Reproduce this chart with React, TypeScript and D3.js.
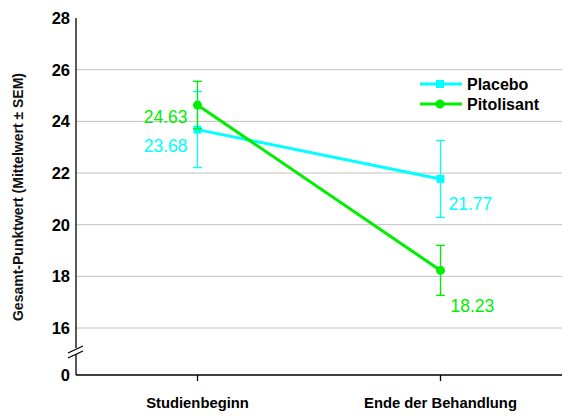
import { useEffect, useRef } from "react";
import * as d3 from "d3";

const timepoints = ["Studienbeginn", "Ende der Behandlung"];
const placeboMean = [23.68, 21.77];
const placeboSem = [1.47, 1.49];
const pitolisantMean = [24.63, 18.23];
const pitolisantSem = [0.92, 0.97];
const yTicks = [0, 16, 18, 20, 22, 24, 26, 28];
const gridTicks = [16, 18, 20, 22, 24, 26];

const CYAN = "#00ffff";
const GREEN = "#00ee00";
const FONT = "Arial, 'Liberation Sans', sans-serif";

export default function App() {
  const svgRef = useRef<SVGSVGElement>(null);

  useEffect(() => {
    if (!svgRef.current) return;
    const width = 572;
    const height = 418;
    const margin = { top: 18, right: 10, bottom: 43, left: 76 };

    const svg = d3.select(svgRef.current);
    svg.selectAll("*").remove();

    const x = d3.scalePoint<string>()
      .domain(timepoints)
      .range([margin.left, width - margin.right])
      .padding(0.5);

    // broken axis: 0 at the bottom, then 16..28
    const y = d3.scaleLinear()
      .domain([0, 16, 28])
      .range([height - margin.bottom, 328, margin.top]);

    // gridlines
    svg.append("g")
      .selectAll("line")
      .data(gridTicks)
      .join("line")
      .attr("x1", margin.left)
      .attr("x2", width - margin.right)
      .attr("y1", d => y(d))
      .attr("y2", d => y(d))
      .attr("stroke", "#c0c0c0")
      .attr("stroke-width", 1);

    // y axis with break
    const axisY = svg.append("g").attr("stroke", "#000").attr("stroke-width", 1.3);
    axisY.append("line")
      .attr("x1", margin.left).attr("x2", margin.left)
      .attr("y1", y(28)).attr("y2", 348);
    axisY.append("line")
      .attr("x1", margin.left).attr("x2", margin.left)
      .attr("y1", 354).attr("y2", y(0));
    [0, 5].forEach(off => {
      axisY.append("line")
        .attr("x1", margin.left - 8).attr("x2", margin.left + 7)
        .attr("y1", 358 - off).attr("y2", 351 - off);
    });

    svg.append("g")
      .selectAll("text")
      .data(yTicks)
      .join("text")
      .attr("x", margin.left - 6)
      .attr("y", d => y(d))
      .attr("dy", "0.36em")
      .attr("text-anchor", "end")
      .attr("font-family", FONT)
      .attr("font-size", 16.5)
      .attr("font-weight", "bold")
      .text(d => d);

    // x axis
    svg.append("line")
      .attr("x1", margin.left).attr("x2", width - margin.right)
      .attr("y1", y(0)).attr("y2", y(0))
      .attr("stroke", "#000").attr("stroke-width", 1.3);

    svg.append("g")
      .selectAll("line")
      .data(timepoints)
      .join("line")
      .attr("x1", d => x(d)!)
      .attr("x2", d => x(d)!)
      .attr("y1", y(0))
      .attr("y2", y(0) + 6)
      .attr("stroke", "#000")
      .attr("stroke-width", 1.3);

    svg.append("g")
      .selectAll("text")
      .data(timepoints)
      .join("text")
      .attr("x", d => x(d)!)
      .attr("y", 408)
      .attr("text-anchor", "middle")
      .attr("font-family", FONT)
      .attr("font-size", 14.8)
      .attr("font-weight", "bold")
      .text(d => d);

    // y axis title
    svg.append("text")
      .attr("transform", `translate(23,197) rotate(-90)`)
      .attr("text-anchor", "middle")
      .attr("font-family", FONT)
      .attr("font-size", 14)
      .attr("font-weight", "bold")
      .attr("fill", "#111")
      .text("Gesamt-Punktwert (Mittelwert ± SEM)");

    const series = [
      { name: "Placebo", mean: placeboMean, sem: placeboSem, color: CYAN, marker: "square" },
      { name: "Pitolisant", mean: pitolisantMean, sem: pitolisantSem, color: GREEN, marker: "circle" },
    ];

    const line = d3.line<number>()
      .x((_, i) => x(timepoints[i])!)
      .y(d => y(d));

    series.forEach(s => {
      const g = svg.append("g");
      // error bars
      s.mean.forEach((m, i) => {
        const cx = x(timepoints[i])!;
        g.append("line")
          .attr("x1", cx).attr("x2", cx)
          .attr("y1", y(m + s.sem[i])).attr("y2", y(m - s.sem[i]))
          .attr("stroke", s.color).attr("stroke-width", 1.3);
        [m + s.sem[i], m - s.sem[i]].forEach(v => {
          g.append("line")
            .attr("x1", cx - 4.5).attr("x2", cx + 4.5)
            .attr("y1", y(v)).attr("y2", y(v))
            .attr("stroke", s.color).attr("stroke-width", 1.3);
        });
      });
      g.append("path")
        .datum(s.mean)
        .attr("d", line)
        .attr("fill", "none")
        .attr("stroke", s.color)
        .attr("stroke-width", 3);
      s.mean.forEach((m, i) => {
        const cx = x(timepoints[i])!;
        if (s.marker === "square") {
          g.append("rect")
            .attr("x", cx - 4).attr("y", y(m) - 4)
            .attr("width", 8).attr("height", 8)
            .attr("fill", s.color);
        } else {
          g.append("circle")
            .attr("cx", cx).attr("cy", y(m)).attr("r", 4.5)
            .attr("fill", s.color);
        }
      });
    });

    // value labels
    const labels = [
      { text: placeboMean[0].toFixed(2), color: CYAN, x: x(timepoints[0])! - 10, y: y(placeboMean[0]) + 22, anchor: "end" },
      { text: pitolisantMean[0].toFixed(2), color: GREEN, x: x(timepoints[0])! - 10, y: y(pitolisantMean[0]) + 18, anchor: "end" },
      { text: placeboMean[1].toFixed(2), color: CYAN, x: x(timepoints[1])! + 8, y: y(placeboMean[1]) + 31, anchor: "start" },
      { text: pitolisantMean[1].toFixed(2), color: GREEN, x: x(timepoints[1])! + 10, y: y(pitolisantMean[1]) + 42, anchor: "start" },
    ];
    svg.append("g")
      .selectAll("text")
      .data(labels)
      .join("text")
      .attr("x", d => d.x)
      .attr("y", d => d.y)
      .attr("text-anchor", d => d.anchor)
      .attr("font-family", FONT)
      .attr("font-size", 17.5)
      .attr("fill", d => d.color)
      .text(d => d.text);

    // legend
    const legend = svg.append("g").attr("transform", "translate(420,84)");
    series.forEach((s, i) => {
      const row = legend.append("g").attr("transform", `translate(0,${i * 20})`);
      row.append("line")
        .attr("x1", 0).attr("x2", 42)
        .attr("y1", 0).attr("y2", 0)
        .attr("stroke", s.color).attr("stroke-width", 3);
      if (s.marker === "square") {
        row.append("rect").attr("x", 16).attr("y", -4).attr("width", 8).attr("height", 8).attr("fill", s.color);
      } else {
        row.append("circle").attr("cx", 20).attr("cy", 0).attr("r", 4.5).attr("fill", s.color);
      }
      row.append("text")
        .attr("x", 47)
        .attr("y", 0)
        .attr("dy", "0.36em")
        .attr("font-family", FONT)
        .attr("font-size", 16)
        .attr("font-weight", "bold")
        .text(s.name);
    });
  }, []);

  return (
    <svg
      ref={svgRef}
      width={572}
      height={418}
      style={{ position: "absolute", left: 0, top: 0, background: "#fff" }}
    />
  );
}
